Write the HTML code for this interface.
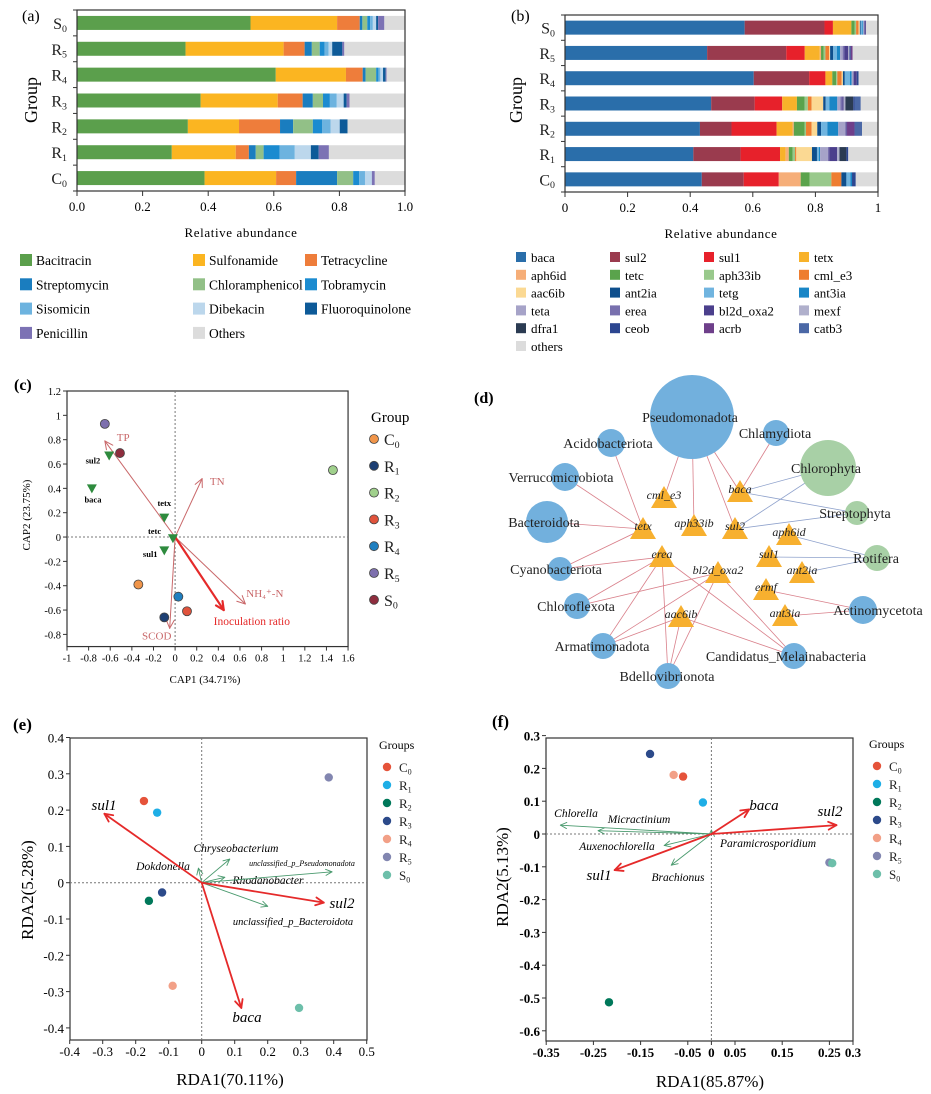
<!DOCTYPE html>
<html><head><meta charset="utf-8">
<style>
html,body{margin:0;padding:0;background:#fff;}
svg{display:block;font-family:"Liberation Serif",serif;}
</style></head>
<body>
<svg id="fig" width="931" height="1094" viewBox="0 0 931 1094" xmlns="http://www.w3.org/2000/svg"></svg>
<script>
// ---------- Panel (a) data ----------
const aGroups = ['S','R','R','R','R','R','C'];
const aGroupSubs = ['0','5','4','3','2','1','0'];
const aCats = ['Bacitracin','Sulfonamide','Tetracycline','Streptomycin','Chloramphenicol','Tobramycin','Sisomicin','Dibekacin','Fluoroquinolone','Penicillin','Others'];
const aColors = ['#5b9f4c','#fbb521','#ee7d3b','#1a7dbf','#92c087','#1b8bd0','#6db3df','#bcd7ec','#0d5a98','#7c72b4','#dcdcdc'];
const aS0 = [0.529,0.264,0.069,0.008,0.015,0.009,0.008,0.010,0.006,0.019];
const aR5 = [0.331,0.299,0.064,0.022,0.024,0.015,0.012,0.011,0.031,0.006];
const aR4 = [0.606,0.214,0.051,0.009,0.032,0.007,0.006,0.008,0.008,0.003];
const aR3 = [0.377,0.235,0.076,0.031,0.031,0.021,0.021,0.021,0.009,0.009];
const aR2 = [0.338,0.156,0.125,0.040,0.060,0.028,0.026,0.028,0.024,0.000];
const aR1 = [0.289,0.195,0.040,0.021,0.024,0.049,0.046,0.049,0.024,0.031];
const aC0 = [0.389,0.218,0.061,0.125,0.049,0.018,0.018,0.021,0.000,0.009];
const aSeries = [aS0,aR5,aR4,aR3,aR2,aR1,aC0];
const aTicks = ['0.0','0.2','0.4','0.6','0.8','1.0'];

// ---------- Panel (b) data ----------
const bCats = ['baca','sul2','sul1','tetx','aph6id','tetc','aph33ib','cml_e3','aac6ib','ant2ia','tetg','ant3ia','teta','erea','bl2d_oxa2','mexf','dfra1','ceob','acrb','catb3','others'];
const bColors = ['#2a6eaa','#9a3b4e','#e7212b','#f8b22a','#f6ae78','#5aa34c','#99c98c','#ee7d30','#fbd993','#0e4f8d','#70b4df','#1986c6','#a6a3c8','#7870ae','#4b3f8c','#b0b0cc','#2b3b52','#2c4690','#6e3f8a','#4b68a6','#dcdcdc'];
const bS0 = [0.574,0.255,0.027,0.059,0.000,0.010,0.005,0.008,0.004,0.003,0.005,0.003,0.002,0.004,0.003,0.000,0.000,0.000,0.000,0.000];
const bR5 = [0.454,0.253,0.059,0.048,0.004,0.008,0.006,0.012,0.003,0.010,0.012,0.010,0.008,0.006,0.012,0.004,0.000,0.004,0.006,0.000];
const bR4 = [0.603,0.177,0.052,0.022,0.000,0.012,0.004,0.014,0.004,0.006,0.016,0.006,0.006,0.000,0.010,0.000,0.000,0.006,0.000,0.000];
const bR3 = [0.467,0.139,0.088,0.047,0.000,0.025,0.010,0.012,0.037,0.008,0.012,0.025,0.010,0.006,0.004,0.006,0.025,0.004,0.000,0.020];
const bR2 = [0.431,0.101,0.144,0.051,0.004,0.035,0.004,0.018,0.018,0.012,0.020,0.035,0.022,0.004,0.002,0.000,0.000,0.000,0.024,0.024];
const bR1 = [0.410,0.151,0.126,0.018,0.010,0.012,0.008,0.004,0.050,0.016,0.006,0.004,0.025,0.004,0.025,0.008,0.022,0.006,0.000,0.000];
const bC0 = [0.437,0.134,0.112,0.000,0.070,0.029,0.069,0.032,0.000,0.016,0.013,0.005,0.000,0.000,0.000,0.000,0.000,0.012,0.000,0.000];
const bSeries = [bS0,bR5,bR4,bR3,bR2,bR1,bC0];
const bTicks = ['0','0.2','0.4','0.6','0.8','1'];

// ---------- Panel (c) data ----------
const cGroups = ['C','R','R','R','R','R','S'];
const cGroupSubs = ['0','1','2','3','4','5','0'];
const cColors = ['#f0954a','#1d3f73','#a0d08c','#e0533c','#1f7fc0','#7d6fad','#8e2d3e'];
const cX = [-0.34,-0.10,1.46,0.11,0.03,-0.65,-0.51];
const cY = [-0.39,-0.66,0.55,-0.61,-0.49,0.93,0.69];
const cGenes = ['sul2','baca','tetx','tetc','sul1'];
const cGeneX = [-0.61,-0.77,-0.10,-0.02,-0.10];
const cGeneY = [0.67,0.40,0.16,-0.01,-0.11];
const cGeneLX = [-0.76,-0.76,-0.10,-0.19,-0.23];
const cGeneLY = [0.63,0.31,0.28,0.05,-0.14];
const cEnv = ['TP','TN','NH\u2084\u207A-N','SCOD','Inoculation ratio'];
const cEnvX = [-0.65,0.25,0.65,-0.05,0.45];
const cEnvY = [0.79,0.48,-0.55,-0.75,-0.60];
const cEnvLX = [-0.48,0.39,0.83,-0.17,0.71];
const cEnvLY = [0.82,0.46,-0.46,-0.81,-0.69];
const cXTicks = [-1,-0.8,-0.6,-0.4,-0.2,0,0.2,0.4,0.6,0.8,1,1.2,1.4,1.6];
const cYTicks = [1.2,1,0.8,0.6,0.4,0.2,0,-0.2,-0.4,-0.6,-0.8];

// ---------- Panel (e) data ----------
const eColors = ['#e5533a','#1eaee6','#00785a','#2c4a8a','#f2a087','#8286b0','#6dbfaa'];
const eGroupSubs = ['0','1','2','3','4','5','0'];
const eGroups = ['C','R','R','R','R','R','S'];
const eX = [-0.175,-0.135,-0.160,-0.120,-0.088,0.385,0.295];
const eY = [0.225,0.193,-0.050,-0.027,-0.284,0.290,-0.345];
const eRed = ['sul1','sul2','baca'];
const eRedX = [-0.295,0.370,0.120];
const eRedY = [0.190,-0.055,-0.345];
const eGreen = ['Chryseobacterium','Dokdonella','Rhodanobacter','unclassified_p_Pseudomonadota','unclassified_p_Bacteroidota'];
const eGreenX = [0.085,-0.010,0.070,0.395,0.200];
const eGreenY = [0.065,0.040,0.015,0.030,-0.065];
const eXTicks = ['-0.4','-0.3','-0.2','-0.1','0','0.1','0.2','0.3','0.4','0.5'];
const eYTicks = ['0.4','0.3','0.2','0.1','0','-0.1','-0.2','-0.3','-0.4'];

// ---------- Panel (f) data ----------
const fX = [-0.060,-0.018,-0.217,-0.130,-0.080,0.250,0.256];
const fY = [0.175,0.096,-0.513,0.244,0.180,-0.087,-0.089];
const fRed = ['baca','sul2','sul1'];
const fRedX = [0.080,0.265,-0.205];
const fRedY = [0.075,0.027,-0.110];
const fGreen = ['Chlorella','Micractinium','Auxenochlorella','Brachionus','Paramicrosporidium'];
const fGreenX = [-0.320,-0.240,-0.100,-0.085,0.000];
const fGreenY = [0.027,0.010,-0.035,-0.095,0.012];
const fXTicks = ['-0.35','-0.25','-0.15','-0.05','0','0.05','0.15','0.25','0.3'];
const fXTickV = [-0.35,-0.25,-0.15,-0.05,0,0.05,0.15,0.25,0.3];
const fYTicks = ['0.3','0.2','0.1','0','-0.1','-0.2','-0.3','-0.4','-0.5','-0.6'];

// ---------- Panel (d) network data ----------
const dPhyla = ['Pseudomonadota','Chlamydiota','Chlorophyta','Acidobacteriota','Verrucomicrobiota','Bacteroidota','Streptophyta','Rotifera','Cyanobacteriota','Chloroflexota','Actinomycetota','Armatimonadota','Candidatus_Melainabacteria','Bdellovibrionota'];
const dPhylaSize = [42,13,28,14,14,21,12,13,12,13,14,13,13,13];
const dPhylaEuk = [0,0,1,0,0,0,1,1,0,0,0,0,0,0];
const dGenes = ['cml_e3','aph33ib','sul2','baca','tetx','erea','bl2d_oxa2','aph6id','sul1','ant2ia','ermf','ant3ia','aac6ib'];
const dEdgeFrom = [0,0,0,0,1,3,4,5,8,8,9,9,11,11,11,13,13,13,12,12,12,2,2,6,6,7,7,7,10,10];
const dEdgeTo   = [0,1,2,3,3,4,4,4,4,5,5,6,5,12,6,5,12,6,5,6,12,3,2,3,2,7,8,9,10,11];

const NS='http://www.w3.org/2000/svg';
const svg=document.getElementById('fig');
function el(p,tag,a,t){const e=document.createElementNS(NS,tag);for(const k in a)e.setAttribute(k,a[k]);if(t!==undefined)e.textContent=t;p.appendChild(e);return e;}
function grp(name){const g=el(svg,'g',{});return g;}
function subLabel(p,x,y,base,sub,size,anchor){
  const t=el(p,'text',{x:x,y:y,'font-size':size,'text-anchor':anchor||'start',fill:'#222'});
  el(t,'tspan',{},base);
  el(t,'tspan',{'font-size':size*0.62,dy:size*0.18},sub);
  return t;
}
function arrow(p,x1,y1,x2,y2,color,w,hl){
  const g=el(p,'g',{});
  el(g,'line',{x1:x1,y1:y1,x2:x2,y2:y2,stroke:color,'stroke-width':w});
  const ang=Math.atan2(y2-y1,x2-x1);
  [0.45,-0.45].forEach(d=>{el(g,'line',{x1:x2,y1:y2,x2:x2-hl*Math.cos(ang+d),y2:y2-hl*Math.sin(ang+d),stroke:color,'stroke-width':w,'stroke-linecap':'round'});});
  return g;
}

// ================= Panel (a) =================
(function(){
  const g=grp('panel-a-stacked-bar-chart');
  const L=77,R=405,T=10,B=191,band=(B-T)/7;
  const xa=v=>L+v*(R-L);
  el(g,'text',{x:22,y:21,'font-size':16},'(a)');
  aSeries.forEach((vals,i)=>{
    const cy=T+band*(i+0.5);let acc=0;
    vals.forEach((v,k)=>{
      const r=el(g,'rect',{x:xa(acc),y:cy-7,width:Math.max(0,xa(acc+v)-xa(acc)),height:14,fill:aColors[k]});
      
      
      acc+=v;
    });
    const o=el(g,'rect',{x:xa(acc),y:cy-7,width:Math.max(0,xa(1)-xa(acc)),height:14,fill:aColors[10]});
    
    
    const lb=subLabel(g,67,cy+6,aGroups[i],aGroupSubs[i],16,'end');
    
    
  });
  el(g,'rect',{x:L,y:T,width:R-L,height:B-T,fill:'none',stroke:'#333','stroke-width':1.2});
  for(let k=0;k<=7;k++)el(g,'line',{x1:L-4,x2:L,y1:T+band*k,y2:T+band*k,stroke:'#333'});
  aTicks.forEach((t,k)=>{const x=xa(k/5);el(g,'line',{x1:x,x2:x,y1:B,y2:B+5,stroke:'#333'});
    const tt=el(g,'text',{x:x,y:B+20,'font-size':13,'text-anchor':'middle'},t);});
  el(g,'text',{x:241,y:237,'font-size':13,'text-anchor':'middle','letter-spacing':'0.6'},'Relative abundance');
  el(g,'text',{x:0,y:0,'font-size':18,'text-anchor':'middle',transform:'translate(37,100) rotate(-90)'},'Group');
  const colX=[20,193,305];
  aCats.forEach((c,k)=>{
    const col=k%3,row=Math.floor(k/3);
    const it=el(g,'g',{});
    
    
    el(it,'rect',{x:colX[col],y:254+row*24.3,width:12,height:12,fill:aColors[k]});
    el(it,'text',{x:colX[col]+16,y:265+row*24.3,'font-size':13.5},c);
  });
})();

// ================= Panel (b) =================
(function(){
  const g=grp('panel-b-stacked-bar-chart');
  const L=565,R=878,T=15,B=192,band=(B-T)/7;
  const xb=v=>L+v*(R-L);
  el(g,'text',{x:511,y:21,'font-size':16},'(b)');
  bSeries.forEach((vals,i)=>{
    const cy=T+band*(i+0.5);let acc=0;
    vals.forEach((v,k)=>{
      const r=el(g,'rect',{x:xb(acc),y:cy-7,width:Math.max(0,xb(acc+v)-xb(acc)),height:14,fill:bColors[k]});
      
      
      acc+=v;
    });
    const o=el(g,'rect',{x:xb(acc),y:cy-7,width:Math.max(0,xb(1)-xb(acc)),height:14,fill:bColors[20]});
    
    
    const lb=subLabel(g,555,cy+6,aGroups[i],aGroupSubs[i],16,'end');
    
    
  });
  el(g,'rect',{x:L,y:T,width:R-L,height:B-T,fill:'none',stroke:'#333','stroke-width':1.2});
  for(let k=0;k<=7;k++)el(g,'line',{x1:L-4,x2:L,y1:T+band*k,y2:T+band*k,stroke:'#333'});
  bTicks.forEach((t,k)=>{const x=xb(k/5);el(g,'line',{x1:x,x2:x,y1:B,y2:B+5,stroke:'#333'});
    const tt=el(g,'text',{x:x,y:B+20,'font-size':13,'text-anchor':'middle'},t);});
  el(g,'text',{x:721,y:238,'font-size':13,'text-anchor':'middle','letter-spacing':'0.6'},'Relative abundance');
  el(g,'text',{x:0,y:0,'font-size':18,'text-anchor':'middle',transform:'translate(522,100) rotate(-90)'},'Group');
  const colX=[516,610,704,799];
  bCats.forEach((c,k)=>{
    const col=k%4,row=Math.floor(k/4);
    const it=el(g,'g',{});
    
    
    el(it,'rect',{x:colX[col],y:252+row*17.8,width:10,height:10,fill:bColors[k]});
    el(it,'text',{x:colX[col]+15,y:262+row*17.8,'font-size':13},c);
  });
})();

// ================= Panel (c) =================
(function(){
  const g=grp('panel-c-cap-ordination');
  const X=v=>67+(v+1)*108.1, Y=v=>391+(1.2-v)*121.7;
  el(g,'text',{x:14,y:390,'font-size':16,'font-weight':'bold'},'(c)');
  el(g,'rect',{x:67,y:391,width:X(1.6)-67,height:Y(-0.9)-391,fill:'none',stroke:'#333','stroke-width':1.2});
  el(g,'line',{x1:67,x2:X(1.6),y1:Y(0),y2:Y(0),stroke:'#777','stroke-dasharray':'2,2'});
  el(g,'line',{x1:X(0),x2:X(0),y1:391,y2:Y(-0.9),stroke:'#777','stroke-dasharray':'2,2'});
  cXTicks.forEach(v=>{el(g,'line',{x1:X(v),x2:X(v),y1:Y(-0.9),y2:Y(-0.9)+4,stroke:'#333'});
    el(g,'text',{x:X(v),y:Y(-0.9)+15,'font-size':10.5,'text-anchor':'middle'},String(v));});
  cYTicks.forEach(v=>{el(g,'line',{x1:63,x2:67,y1:Y(v),y2:Y(v),stroke:'#333'});
    el(g,'text',{x:61,y:Y(v)+4,'font-size':10.5,'text-anchor':'end'},String(v));});
  el(g,'text',{x:205,y:683,'font-size':11,'text-anchor':'middle'},'CAP1 (34.71%)');
  el(g,'text',{x:0,y:0,'font-size':11,'text-anchor':'middle',transform:'translate(30,515) rotate(-90)'},'CAP2 (23.75%)');
  cEnv.forEach((n,k)=>{
    const strong=k===4;
    const a=arrow(g,X(0),Y(0),X(cEnvX[k]),Y(cEnvY[k]),strong?'#e52a2a':'#c9686a',strong?2.2:1,9);
    
    
    const t=el(g,'text',{x:X(cEnvLX[k]),y:Y(cEnvLY[k])+4,'font-size':strong?11.5:11,'text-anchor':'middle',fill:strong?'#e52a2a':'#c9686a'},n);
    
  });
  cGenes.forEach((n,k)=>{
    const x=X(cGeneX[k]),y=Y(cGeneY[k]);
    const tr=el(g,'path',{d:`M${x-5},${y-4}L${x+5},${y-4}L${x},${y+5}Z`,fill:'#2e8b3e'});
    
    
    el(g,'text',{x:X(cGeneLX[k]),y:Y(cGeneLY[k])+3,'font-size':8.5,'font-weight':'bold','text-anchor':'middle'},n);
  });
  cX.forEach((v,i)=>{
    const c=el(g,'circle',{cx:X(v),cy:Y(cY[i]),r:4.5,fill:cColors[i],stroke:'#444','stroke-width':0.8});
    
    
  });
  el(g,'text',{x:371,y:422,'font-size':15},'Group');
  cGroups.forEach((b,i)=>{
    const y=439+i*26.8;
    const it=el(g,'g',{});
    
    
    el(it,'circle',{cx:374,cy:y,r:4.5,fill:cColors[i],stroke:'#444','stroke-width':0.8});
    subLabel(it,384,y+6,b,cGroupSubs[i],16,'start');
  });
})();

// ================= Panel (d) =================
(function(){
  const g=grp('panel-d-network');
  el(g,'text',{x:474,y:403,'font-size':16,'font-weight':'bold'},'(d)');
  const pX=[692,776,828,611,565,547,857,877,560,577,863,603,794,668];
  const pY=[417,433,468,443,477,522,513,558,569,606,610,646,656,676];
  const gX=[664,694,735,740,643,662,718,789,769,802,766,785,681];
  const gY=[498,526,529,492,529,557,573,535,557,573,590,616,617];
  dEdgeFrom.forEach((f,k)=>{
    const t=dEdgeTo[k];
    const ln=el(g,'line',{x1:pX[f],y1:pY[f],x2:gX[t],y2:gY[t],stroke:dPhylaEuk[f]?'#8fa2cc':'#d9808b','stroke-width':0.8});
    
    
  });
  dPhyla.forEach((n,k)=>{
    const c=el(g,'circle',{cx:pX[k],cy:pY[k],r:dPhylaSize[k],fill:dPhylaEuk[k]?'#a8d0a6':'#72b0dd'});
    
    
  });
  dGenes.forEach((n,k)=>{
    const x=gX[k],y=gY[k];
    const t=el(g,'path',{d:`M${x},${y-12}L${x+13},${y+10}L${x-13},${y+10}Z`,fill:'#f7b02f'});
    
    
  });
  const lX=[690,775,826,608,561,544,855,876,556,576,878,602,786,667];
  dPhyla.forEach((n,k)=>{
    const t=el(g,'text',{x:lX[k],y:pY[k]+5,'font-size':14,'text-anchor':'middle',fill:'#222'},n);
    
  });
  dGenes.forEach((n,k)=>{
    const t=el(g,'text',{x:gX[k],y:gY[k]+1,'font-size':12,'font-style':'italic','text-anchor':'middle',fill:'#222'},n);
    
  });
})();

// ================= RDA helper =================
function rda(name,opts){
  const g=grp(name);
  const {L,R,T,B,x0,y0,sx,sy}=opts;
  const X=v=>x0+v*sx, Y=v=>y0-v*sy;
  el(g,'text',{x:opts.lab[0],y:opts.lab[1],'font-size':17,'font-weight':'bold'},opts.label);
  el(g,'rect',{x:L,y:T,width:R-L,height:B-T,fill:'none',stroke:'#333','stroke-width':1.2});
  el(g,'line',{x1:L,x2:R,y1:Y(0),y2:Y(0),stroke:'#777','stroke-dasharray':'2,2'});
  el(g,'line',{x1:X(0),x2:X(0),y1:T,y2:B,stroke:'#777','stroke-dasharray':'2,2'});
  opts.xt.forEach((t,k)=>{const x=X(opts.xv[k]);el(g,'line',{x1:x,x2:x,y1:B,y2:B+4,stroke:'#333'});
    el(g,'text',{x:x,y:B+16,'font-size':13,'text-anchor':'middle','font-weight':opts.bold},t);});
  opts.yt.forEach(t=>{const y=Y(parseFloat(t));el(g,'line',{x1:L-4,x2:L,y1:y,y2:y,stroke:'#333'});
    el(g,'text',{x:L-6,y:y+5,'font-size':13,'text-anchor':'end','font-weight':opts.bold},t);});
  el(g,'text',{x:opts.xTitle[0],y:opts.xTitle[1],'font-size':17,'text-anchor':'middle'},opts.xLabel);
  el(g,'text',{x:0,y:0,'font-size':17,'text-anchor':'middle',transform:`translate(${opts.yTitle[0]},${opts.yTitle[1]}) rotate(-90)`},opts.yLabel);
  opts.gn.forEach((n,k)=>{
    const a=arrow(g,X(0),Y(0),X(opts.gx[k]),Y(opts.gy[k]),'#4a9a6e',0.9,7);
    
    
    const p=opts.gl[k];
    const t=el(g,'text',{x:p[0],y:p[1],'font-size':p[2],'font-style':'italic','text-anchor':'middle'},n);
    
  });
  opts.rn.forEach((n,k)=>{
    const a=arrow(g,X(0),Y(0),X(opts.rx[k]),Y(opts.ry[k]),'#e52a2a',1.8,9);
    
    
    const p=opts.rl[k];
    const t=el(g,'text',{x:p[0],y:p[1],'font-size':15,'font-style':'italic','text-anchor':'middle'},n);
    
  });
  opts.px.forEach((v,i)=>{
    const c=el(g,'circle',{cx:X(v),cy:Y(opts.py[i]),r:4.2,fill:eColors[i]});
    
    
  });
  el(g,'text',{x:opts.leg[0],y:opts.leg[1],'font-size':12},'Groups');
  eGroups.forEach((b,i)=>{
    const y=opts.leg[1]+18+i*18;
    const it=el(g,'g',{});
    
    
    el(it,'circle',{cx:opts.leg[0]+8,cy:y,r:4.2,fill:eColors[i]});
    subLabel(it,opts.leg[0]+20,y+5,b,eGroupSubs[i],13,'start');
  });
}
rda('panel-e-rda-bacteria',{L:70,R:367,T:738,B:1040,x0:201.7,y0:882.7,sx:330,sy:363,
  label:'(e)',lab:[13,730],bold:'normal',
  xt:eXTicks,xv:eXTicks.map(Number),yt:eYTicks,
  xLabel:'RDA1(70.11%)',xTitle:[230,1085],yLabel:'RDA2(5.28%)',yTitle:[33,890],
  gn:eGreen,gx:eGreenX,gy:eGreenY,
  gl:[[236,852,11.5],[163,870,11.5],[268,884,11.5],[302,866,8],[293,925,10.5]],
  rn:eRed,rx:eRedX,ry:eRedY,rl:[[104,810],[342,908],[247,1022]],
  px:eX,py:eY,leg:[379,749]});
rda('panel-f-rda-eukaryotes',{L:546,R:853,T:738,B:1041,x0:711.4,y0:834,sx:472,sy:328,
  label:'(f)',lab:[492,727],bold:'bold',
  xt:fXTicks,xv:fXTickV,yt:fYTicks,
  xLabel:'RDA1(85.87%)',xTitle:[710,1087],yLabel:'RDA2(5.13%)',yTitle:[508,877],
  gn:fGreen,gx:fGreenX,gy:fGreenY,
  gl:[[576,817,11.5],[639,823,11.5],[617,850,11.5],[678,881,11.5],[768,847,11.5]],
  rn:fRed,rx:fRedX,ry:fRedY,rl:[[764,810],[830,816],[599,880]],
  px:fX,py:fY,leg:[869,748]});
</script>
</body></html>
